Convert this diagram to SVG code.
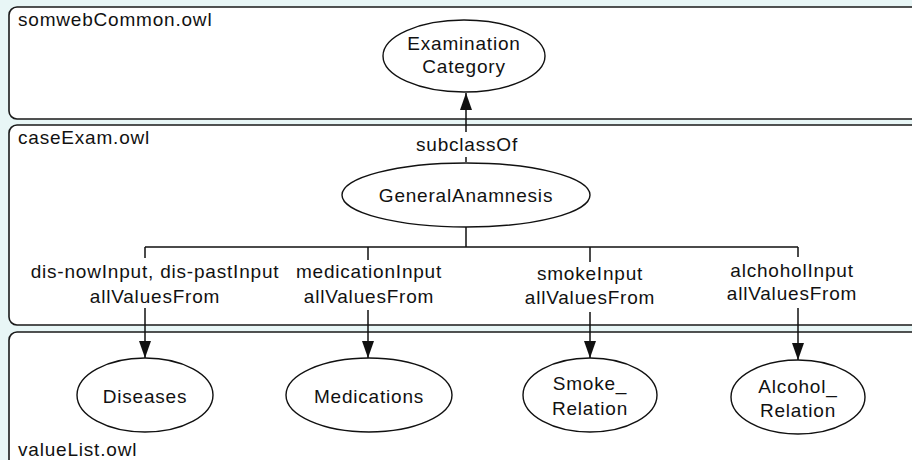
<svg xmlns="http://www.w3.org/2000/svg" width="912" height="460" viewBox="0 0 912 460">
<style>
.bg{fill:#e8f6f6}
.box{fill:#ffffff;stroke:#1a1a1a;stroke-width:1.6}
.node{fill:#ffffff;stroke:#111111;stroke-width:1.4}
.t{font-family:"Liberation Sans",Arial,sans-serif;font-size:19px;letter-spacing:0.8px;fill:#111111}
.c{text-anchor:middle}
.ln{fill:none;stroke:#111111;stroke-width:1.5}
</style>
<defs>
<marker id="ah" viewBox="0 0 17 12" refX="17" refY="6" markerWidth="17" markerHeight="12" markerUnits="userSpaceOnUse" orient="auto">
<path d="M0,0 L17,6 L0,12 z" fill="#111111"/>
</marker>
</defs>
<rect class="bg" x="0" y="0" width="912" height="460"/>
<g id="somwebCommon">
<rect class="box" x="9" y="7" width="940" height="112" rx="8"/>
<text class="t" x="18" y="26">somwebCommon.owl</text>
</g>
<g id="caseExam">
<rect class="box" x="9" y="125" width="940" height="200" rx="8"/>
<text class="t" x="18" y="144">caseExam.owl</text>
</g>
<g id="valueList">
<rect class="box" x="9" y="332" width="940" height="160" rx="8"/>
<text class="t" x="18" y="456">valueList.owl</text>
</g>
<g id="connectors">
<path class="ln" d="M466,162 V157"/>
<path class="ln" d="M466,132 V93" marker-end="url(#ah)"/>
<path class="ln" d="M466,227 V247 M145,247 H798"/>
<path class="ln" d="M145,247 V258 M368,247 V260 M590,247 V262 M798,247 V257"/>
<path class="ln" d="M145,308 V358" marker-end="url(#ah)"/>
<path class="ln" d="M368,310 V358" marker-end="url(#ah)"/>
<path class="ln" d="M590,312 V358" marker-end="url(#ah)"/>
<path class="ln" d="M798,308 V360" marker-end="url(#ah)"/>
<text class="t c" x="467" y="151">subclassOf</text>
<text class="t c" x="155" y="278">dis-nowInput, dis-pastInput</text>
<text class="t c" x="155" y="303">allValuesFrom</text>
<text class="t c" x="369" y="278">medicationInput</text>
<text class="t c" x="369" y="303">allValuesFrom</text>
<text class="t c" x="590" y="280">smokeInput</text>
<text class="t c" x="590" y="304">allValuesFrom</text>
<text class="t c" x="792" y="277">alchoholInput</text>
<text class="t c" x="792" y="300">allValuesFrom</text>
</g>
<g id="ExaminationCategory">
<ellipse class="node" cx="464" cy="56" rx="81" ry="36"/>
<text class="t c" x="464" y="50">Examination</text>
<text class="t c" x="464" y="73">Category</text>
</g>
<g id="GeneralAnamnesis">
<ellipse class="node" cx="466" cy="195" rx="124" ry="32"/>
<text class="t c" x="466" y="202">GeneralAnamnesis</text>
</g>
<g id="Diseases">
<ellipse class="node" cx="145" cy="395" rx="68" ry="37"/>
<text class="t c" x="145" y="403">Diseases</text>
</g>
<g id="Medications">
<ellipse class="node" cx="369" cy="395" rx="83" ry="37"/>
<text class="t c" x="369" y="403">Medications</text>
</g>
<g id="Smoke_Relation">
<ellipse class="node" cx="590" cy="395" rx="67" ry="37"/>
<text class="t c" x="590" y="390">Smoke_</text>
<text class="t c" x="590" y="415">Relation</text>
</g>
<g id="Alcohol_Relation">
<ellipse class="node" cx="798" cy="397" rx="67" ry="37"/>
<text class="t c" x="798" y="393">Alcohol_</text>
<text class="t c" x="798" y="417">Relation</text>
</g>
</svg>
